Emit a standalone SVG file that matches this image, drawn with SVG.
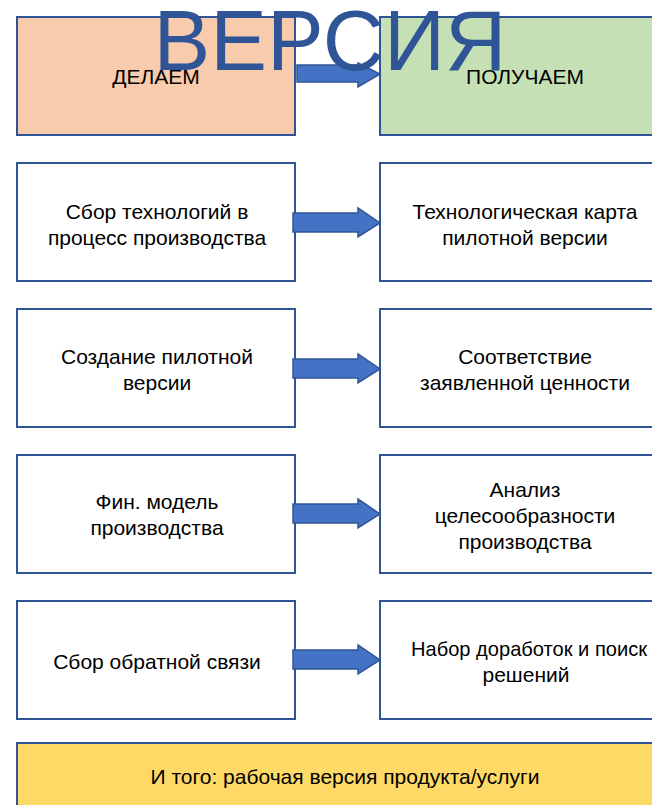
<svg xmlns="http://www.w3.org/2000/svg" width="652" height="805" viewBox="0 0 652 805">
<style>
.box{fill:#fff;stroke:#2F5597;stroke-width:2}
.t{font-family:"Liberation Sans",Arial,sans-serif;font-size:21px;fill:#000;text-anchor:middle}
.arr{fill:#4472C4;stroke:#2F5597;stroke-width:1.5}
</style>
<rect width="652" height="805" fill="#fff"/>
<g id="n-delaem"><rect class="box" x="17" y="17" width="278" height="118" style="fill:#F8CBAD"/><text class="t" x="156" y="84">ДЕЛАЕМ</text></g>
<g id="n-poluchaem"><rect class="box" x="380" y="17" width="290" height="118" style="fill:#C5E0B4"/><text class="t" x="525" y="84">ПОЛУЧАЕМ</text></g>
<g id="n-l1"><rect class="box" x="17" y="163" width="278" height="118"/><text class="t" x="157" y="219">Сбор технологий в</text><text class="t" x="157" y="245">процесс производства</text></g>
<g id="n-r1"><rect class="box" x="380" y="163" width="290" height="118"/><text class="t" x="525" y="219">Технологическая карта</text><text class="t" x="525" y="245">пилотной версии</text></g>
<g id="n-l2"><rect class="box" x="17" y="309" width="278" height="118"/><text class="t" x="157" y="364">Создание пилотной</text><text class="t" x="157" y="390">версии</text></g>
<g id="n-r2"><rect class="box" x="380" y="309" width="290" height="118"/><text class="t" x="525" y="364">Соответствие</text><text class="t" x="525" y="390">заявленной ценности</text></g>
<g id="n-l3"><rect class="box" x="17" y="455" width="278" height="118"/><text class="t" x="157" y="509">Фин. модель</text><text class="t" x="157" y="535">производства</text></g>
<g id="n-r3"><rect class="box" x="380" y="455" width="290" height="118"/><text class="t" x="525" y="497">Анализ</text><text class="t" x="525" y="523">целесообразности</text><text class="t" x="525" y="549">производства</text></g>
<g id="n-l4"><rect class="box" x="17" y="601" width="278" height="118"/><text class="t" x="157" y="669">Сбор обратной связи</text></g>
<g id="n-r4"><rect class="box" x="380" y="601" width="290" height="118"/><text class="t" x="529" y="656" textLength="236" lengthAdjust="spacingAndGlyphs">Набор доработок и поиск</text><text class="t" x="526" y="682">решений</text></g>
<g id="n-total"><rect class="box" x="17" y="743" width="660" height="80" style="fill:#FFD966"/><text class="t" x="345" y="784">И того: рабочая версия продукта/услуги</text></g>
<g id="connectors">
<path class="arr" d="M297,65 H358 V63 L380,74 L358,87 V82 H297 Z"/>
<path class="arr" d="M293,213 H358 V208 L380,223 L358,237 V232 H293 Z"/>
<path class="arr" d="M293,359 H358 V354 L380,369 L358,383 V378 H293 Z"/>
<path class="arr" d="M293,504 H358 V499 L380,514 L358,528 V523 H293 Z"/>
<path class="arr" d="M293,650 H358 V645 L380,660 L358,674 V669 H293 Z"/>
</g>
<text x="330" y="70" font-family="Liberation Sans,Arial,sans-serif" font-size="85" fill="#2F5597" text-anchor="middle">ВЕРСИЯ</text>
</svg>
